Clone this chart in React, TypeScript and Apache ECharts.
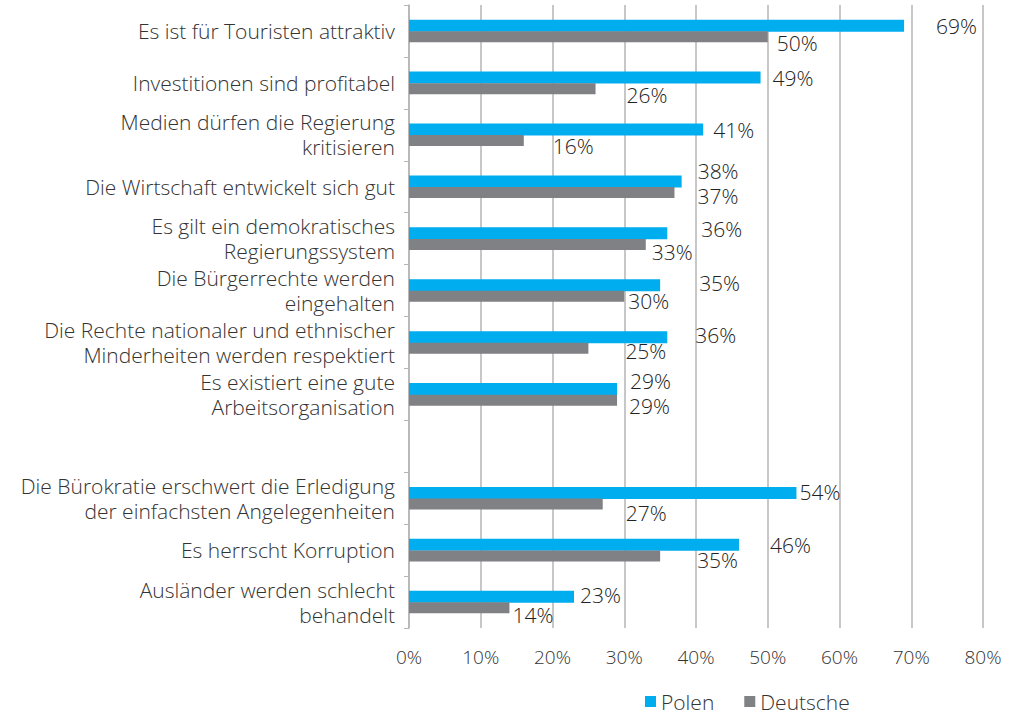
import React, { useEffect, useRef } from "react";
import * as echarts from "echarts";

const categories = [
  "Es ist für Touristen attraktiv",
  "Investitionen sind profitabel",
  "Medien dürfen die Regierung\nkritisieren",
  "Die Wirtschaft entwickelt sich gut",
  "Es gilt ein demokratisches\nRegierungssystem",
  "Die Bürgerrechte werden\neingehalten",
  "Die Rechte nationaler und ethnischer\nMinderheiten werden respektiert",
  "Es existiert eine gute\nArbeitsorganisation",
  "",
  "Die Bürokratie erschwert die Erledigung\nder einfachsten Angelegenheiten",
  "Es herrscht Korruption",
  "Ausländer werden schlecht\nbehandelt",
];

const polen: (number | null)[] = [69, 49, 41, 38, 36, 35, 36, 29, null, 54, 46, 23];
const deutsche: (number | null)[] = [50, 26, 16, 37, 33, 30, 25, 29, null, 27, 35, 14];

const xTicks = [0, 10, 20, 30, 40, 50, 60, 70, 80];

// label offsets (styling only) [dx, dy]
const polenLabelOffsets = [
  [32, 0], [12, 0], [10, 0], [16, -10], [34, -4], [39, -2], [28, -2], [13, -8], [0, 0], [3, -1], [31, 0], [6, -2],
];
const deutscheLabelOffsets = [
  [9, 6], [31, 6], [29, 5], [23, 4], [6, 8], [4, 5], [37, 3], [12, 6], [0, 0], [23, 9], [37, 4], [3, 7],
];

const FONT = "'Open Sans', 'Noto Sans', sans-serif";

function buildData(values: (number | null)[], offsets: number[][]) {
  return values.map((v, i) =>
    v === null
      ? "-"
      : { value: v, label: { offset: offsets[i] } }
  );
}

export default function App() {
  const ref = useRef<HTMLDivElement>(null);
  useEffect(() => {
    if (!ref.current) return;
    const chart = echarts.init(ref.current, null, { renderer: "svg" });
    const labelStyle = {
      show: true,
      position: "right",
      distance: 0,
      formatter: "{c}%",
      fontFamily: FONT,
      fontWeight: 300,
      fontSize: 21,
      color: "#222222",
    };
    chart.setOption({
      animation: false,
      backgroundColor: "#ffffff",
      textStyle: { fontFamily: FONT },
      legend: {
        bottom: 0,
        left: 640,
        itemWidth: 11,
        itemHeight: 11,
        itemGap: 30,
        icon: "rect",
        textStyle: { fontFamily: FONT, fontWeight: 300, fontSize: 21, color: "#333333" },
        data: ["Polen", "Deutsche"],
      },
      grid: { left: 409, right: 29, top: 5, height: 623, containLabel: false },
      xAxis: {
        type: "value",
        min: xTicks[0],
        max: xTicks[xTicks.length - 1],
        interval: 10,
        axisLine: { show: false },
        axisTick: { show: false },
        axisLabel: {
          formatter: "{value}%",
          fontFamily: FONT,
          fontWeight: 300,
          fontSize: 19,
          color: "#333333",
          margin: 19,
        },
        splitLine: { show: true, lineStyle: { color: "#b5b5b5", width: 1.5 } },
      },
      yAxis: {
        type: "category",
        data: categories,
        inverse: true,
        axisLine: { show: true, lineStyle: { color: "#b5b5b5", width: 1.5 } },
        axisTick: { show: true, length: 5, lineStyle: { color: "#b5b5b5" } },
        axisLabel: {
          fontFamily: FONT,
          fontWeight: 300,
          fontSize: 21,
          lineHeight: 25,
          color: "#333333",
          margin: 14,
          align: "right",
        },
      },
      series: [
        {
          name: "Polen",
          type: "bar",
          data: buildData(polen, polenLabelOffsets),
          barWidth: 12,
          barGap: "-4%",
          itemStyle: { color: "#00adef" },
          label: labelStyle,
        },
        {
          name: "Deutsche",
          type: "bar",
          data: buildData(deutsche, deutscheLabelOffsets),
          barWidth: 11,
          itemStyle: { color: "#808184" },
          label: labelStyle,
        },
      ],
    });
    return () => chart.dispose();
  }, []);
  return <div ref={ref} style={{ width: 1012, height: 717, position: "absolute", left: 0, top: 0 }} />;
}
